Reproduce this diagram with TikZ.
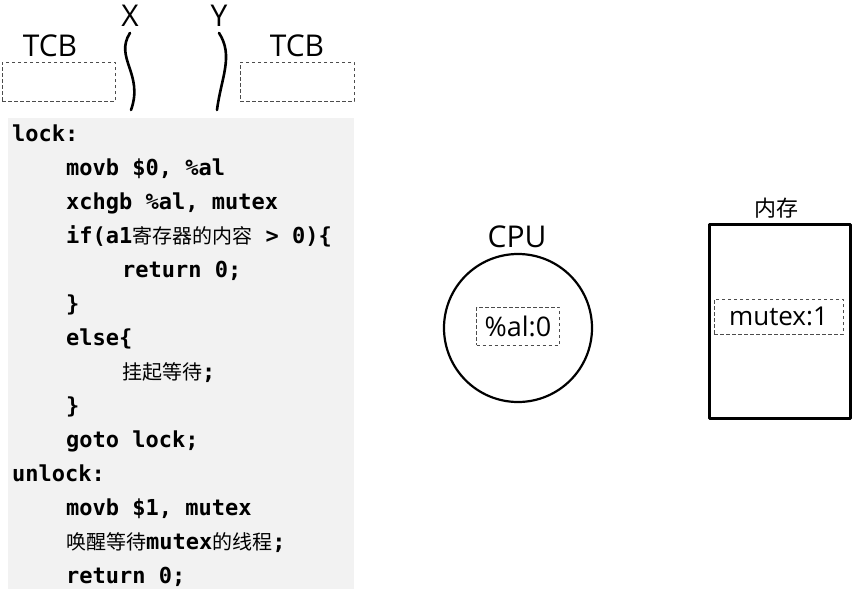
\documentclass[tikz,border=0pt]{standalone}
\usepackage{fontspec}
\setmainfont{Open Sans}
\setmonofont{DejaVu Sans Mono}
\newfontfamily\cjk{Noto Sans CJK SC}
\usetikzlibrary{positioning}

% Chinese text inside the code listing
\newcommand{\zh}[1]{{\cjk\mdseries\fontsize{20}{24}\selectfont #1}}

\tikzset{
  labeltext/.style={inner sep=0pt, font=\fontsize{30}{32}\selectfont},
  dashbox/.style={draw=black!70, dash pattern=on 3.5pt off 2.5pt, line width=0.8pt, inner sep=0pt},
  codeline/.style={anchor=base west, inner sep=0pt, font=\fontsize{22}{24}\selectfont\ttfamily\bfseries},
  thread/.style={line width=2.6pt, line cap=round}
}

\begin{document}
\begin{tikzpicture}[x=1pt, y=-1pt, line join=round]
  % Page size of the reference
  \useasboundingbox (0,0) rectangle (855,589);

  % Thread control blocks
  \node[labeltext] (tcbx) at (50,46) {TCB};
  \node[dashbox, minimum width=113pt, minimum height=39pt] (tcbxbox) at (58.5,81.5) {};
  \node[labeltext] (tcby) at (297,46) {TCB};
  \node[dashbox, minimum width=114pt, minimum height=39pt] (tcbybox) at (297,81.5) {};

  % Threads X and Y
  \node[labeltext] (X) at (130,16) {X};
  \node[labeltext] (Y) at (219,16) {Y};
  \coordinate (xend) at (131,110);
  \coordinate (yend) at (217,110);
  \draw[thread] ([yshift=-6pt]X.south) .. controls (114,58) and (144,74) .. (xend);
  \draw[thread] ([yshift=-6pt]Y.south) .. controls (234,56) and (221,78) .. (yend);

  % Code listing on a grey background
  \fill[black!5] (8,118) rectangle (354,589);
  \node[codeline] (l1)  at (12,141) {lock:};
  \node[codeline] (l2)  at (66,175) {movb \$0, \%al};
  \node[codeline] (l3)  at (66,209) {xchgb \%al, mutex};
  \node[codeline] (l4)  at (66,243) {if(a1\zh{寄存器的内容} > 0)\{};
  \node[codeline] (l5)  at (122,277) {return 0;};
  \node[codeline] (l6)  at (66,311) {\}};
  \node[codeline] (l7)  at (66,345) {else\{};
  \node[codeline] (l8)  at (122,379) {\zh{挂起等待};};
  \node[codeline] (l9)  at (66,413) {\}};
  \node[codeline] (l10) at (66,447) {goto lock;};
  \node[codeline] (l11) at (12,481) {unlock:};
  \node[codeline] (l12) at (66,515) {movb \$1, mutex};
  \node[codeline] (l13) at (66,549) {\zh{唤醒等待}mutex\zh{的线程};};
  \node[codeline] (l14) at (66,583) {return 0;};

  % CPU with its register
  \node[circle, draw, line width=2.2pt, minimum size=148pt] (cpu) at (518,328) {};
  \node[labeltext] (cpulabel) at (517,237) {CPU};
  \node[dashbox, minimum width=83pt, minimum height=38pt, font=\fontsize{27}{30}\selectfont] (al) at (518,326) {\%al:0};

  % Memory with the mutex cell
  \node[draw, line width=3pt, minimum width=141pt, minimum height=194pt] (mem) at (780,321.5) {};
  \node[inner sep=0pt, font=\cjk\fontsize{22}{24}\selectfont] (memlabel) at (776,208) {内存};
  \node[dashbox, minimum width=129pt, minimum height=35pt, font=\fontsize{26}{30}\selectfont] (mutex) at (778.5,316.5) {mutex:1};
\end{tikzpicture}
\end{document}
